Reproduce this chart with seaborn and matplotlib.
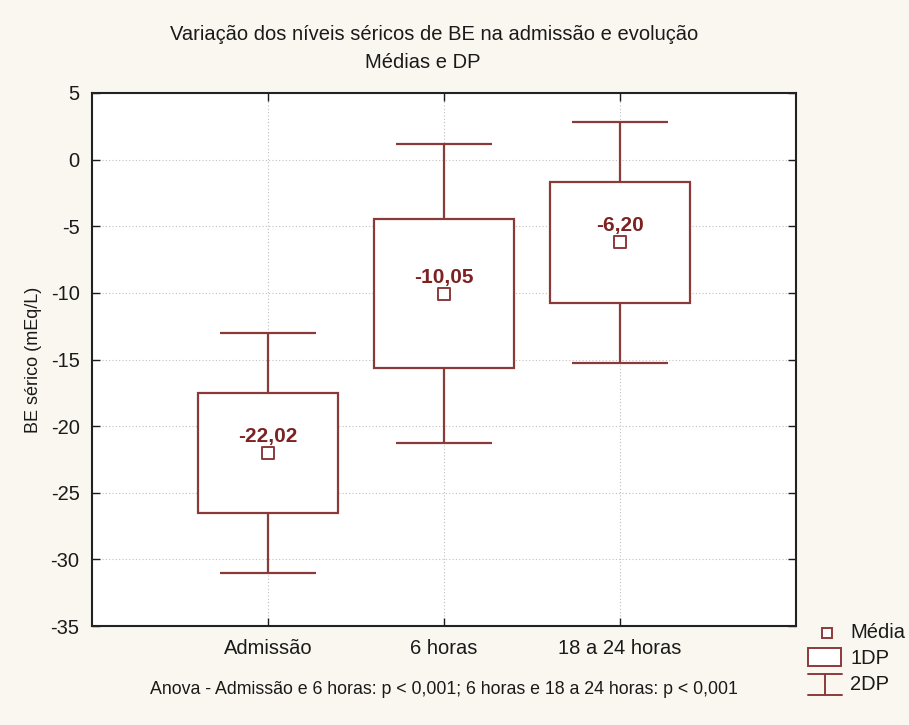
import numpy as np
import pandas as pd
import matplotlib
matplotlib.use("Agg")
import matplotlib.pyplot as plt
from matplotlib.lines import Line2D
from matplotlib.patches import Rectangle
import seaborn as sns

# dados (média e DP do BE sérico)
categorias = ["Admissão", "6 horas", "18 a 24 horas"]
medias = [-22.02, -10.05, -6.20]
dp = [4.52, 5.62, 4.53]
rotulos = ["-22,02", "-10,05", "-6,20"]
yticks = [5, 0, -5, -10, -15, -20, -25, -30, -35]

COR = "#8b3a3a"
COR_TXT = "#7d2222"
FUNDO = "#faf7f0"

sns.set_theme(style="white")
plt.rcParams["font.family"] = ["Liberation Sans", "DejaVu Sans"]
plt.rcParams["axes.unicode_minus"] = False

df = pd.DataFrame({"cat": categorias, "media": medias, "dp": dp})
df["sup1"] = df["media"] + df["dp"]
df["inf1"] = df["media"] - df["dp"]
df["sup2"] = df["media"] + 2 * df["dp"]
df["inf2"] = df["media"] - 2 * df["dp"]

W, H = 909, 725
fig = plt.figure(figsize=(W / 100, H / 100), dpi=100, facecolor=FUNDO)
ax = fig.add_axes([92 / W, 1 - 626 / H, (796 - 92) / W, (626 - 93) / H])
ax.set_facecolor("white")

x = np.arange(len(categorias))

# caixas (média ± 1DP)
ax.bar(x, 2 * df["dp"], bottom=df["inf1"], width=0.8, facecolor="white",
       edgecolor=COR, linewidth=1.6, zorder=2)
# bigodes (±2DP)
ax.vlines(x, df["sup1"], df["sup2"], color=COR, lw=1.6, zorder=2)
ax.vlines(x, df["inf2"], df["inf1"], color=COR, lw=1.6, zorder=2)
ax.hlines(df["sup2"], x - 0.275, x + 0.275, color=COR, lw=1.6, zorder=2)
ax.hlines(df["inf2"], x - 0.275, x + 0.275, color=COR, lw=1.6, zorder=2)

# médias
sns.scatterplot(x=x, y=df["media"], marker="s", s=70, color="white",
                edgecolor=COR, linewidth=1.4, zorder=4, ax=ax, legend=False)
for xi, m, r in zip(x, medias, rotulos):
    ax.annotate(r, (xi, m), xytext=(0, 5), textcoords="offset points",
                ha="center", va="bottom", fontsize=15, fontweight="bold",
                color=COR_TXT, zorder=5)

ax.set_xlim(-1, 3)
ax.set_ylim(-35, 5)
ax.set_yticks(yticks)
ax.set_xticks(x)
ax.set_xticklabels(categorias)
ax.set_xlabel("")
ax.set_ylabel("BE sérico (mEq/L)", fontsize=13, color="#1a1a1a", labelpad=6)
ax.tick_params(axis="both", direction="in", length=6, width=1, labelsize=14.5,
               colors="#1a1a1a", top=True, right=True, left=True, bottom=True,
               pad=9)
ax.grid(True, ls=(0, (1, 2)), color="#c0c0c0", lw=0.8, zorder=0)
ax.set_axisbelow(True)
for s in ax.spines.values():
    s.set_color("#222222")
    s.set_linewidth(1.5)

# títulos
fig.text(434 / W, 1 - 35 / H, "Variação dos níveis séricos de BE na admissão e evolução",
         ha="center", va="center", fontsize=14.5, color="#1a1a1a")
fig.text(423 / W, 1 - 62 / H, "Médias e DP", ha="center", va="center",
         fontsize=14.5, color="#1a1a1a")
fig.text(444 / W, 1 - 690 / H,
         "Anova - Admissão e 6 horas: p < 0,001; 6 horas e 18 a 24 horas: p < 0,001",
         ha="center", va="center", fontsize=12.8, color="#1a1a1a")

# legenda desenhada à mão
def px(xp, yp):
    return xp / W, 1 - yp / H

fig.add_artist(Line2D(*zip(px(827, 633)), marker="s", ms=7, mfc="white",
                      mec=COR, mew=1.4, ls="none", transform=fig.transFigure))
x0, y0 = px(808, 666)
fig.add_artist(Rectangle((x0, y0), 33 / W, 18 / H, facecolor="white",
                         edgecolor=COR, lw=1.4, transform=fig.transFigure))
for yy in (674, 695):
    fig.add_artist(Line2D([808 / W, 842 / W], [1 - yy / H] * 2, color=COR, lw=1.4,
                          transform=fig.transFigure))
fig.add_artist(Line2D([825 / W] * 2, [1 - 674 / H, 1 - 695 / H], color=COR, lw=1.4,
                      transform=fig.transFigure))
for lab, yy in (("Média", 633), ("1DP", 659), ("2DP", 685)):
    fig.text(850 / W, 1 - yy / H, lab, ha="left", va="center", fontsize=14.5,
             color="#1a1a1a")

fig.savefig("out.png", dpi=100, facecolor=FUNDO)
